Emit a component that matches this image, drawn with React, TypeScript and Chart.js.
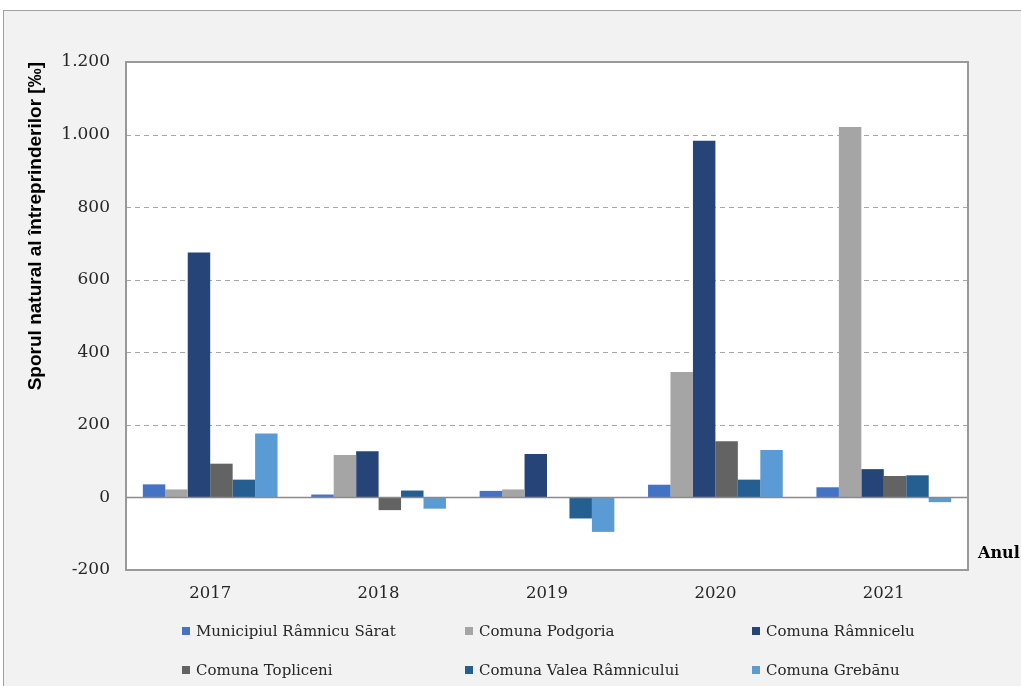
import React, { useEffect, useRef } from "react";
import { Chart, registerables } from "chart.js";

Chart.register(...registerables);

const years = ["2017", "2018", "2019", "2020", "2021"];
const seriesNames = [
  "Municipiul Râmnicu Sărat",
  "Comuna Podgoria",
  "Comuna Râmnicelu",
  "Comuna Topliceni",
  "Comuna Valea Râmnicului",
  "Comuna Grebănu",
];
const municipiulRamnicuSarat = [36, 8, 18, 35, 28];
const comunaPodgoria = [22, 117, 22, 346, 1021];
const comunaRamnicelu = [675, 127, 120, 983, 78];
const comunaTopliceni = [93, -35, 0, 155, 59];
const comunaValeaRamnicului = [49, 19, -58, 49, 61];
const comunaGrebanu = [176, -31, -95, 131, -13];
const seriesColors = ["#4472c4", "#a5a5a5", "#264478", "#636363", "#255e91", "#5b9bd5"];
const yTicks = [-200, 0, 200, 400, 600, 800, 1000, 1200];

const allSeries = [
  municipiulRamnicuSarat,
  comunaPodgoria,
  comunaRamnicelu,
  comunaTopliceni,
  comunaValeaRamnicului,
  comunaGrebanu,
];

const fmt = (v: number) => {
  const neg = v < 0;
  const s = Math.abs(v).toString().replace(/\B(?=(\d{3})+(?!\d))/g, ".");
  return (neg ? "-" : "") + s;
};

const plotDecor = {
  id: "plotDecor",
  beforeDatasetsDraw(chart: any) {
    const { ctx, chartArea } = chart;
    const y = chart.scales.y;
    ctx.save();
    ctx.fillStyle = "#ffffff";
    ctx.fillRect(chartArea.left, chartArea.top, chartArea.right - chartArea.left, chartArea.bottom - chartArea.top);
    ctx.lineWidth = 1;
    ctx.strokeStyle = "#a6a6a6";
    ctx.setLineDash([5, 4]);
    for (const v of yTicks) {
      if (v <= 0 || v >= 1200) continue;
      const py = Math.round(y.getPixelForValue(v)) + 0.5;
      ctx.beginPath();
      ctx.moveTo(chartArea.left, py);
      ctx.lineTo(chartArea.right, py);
      ctx.stroke();
    }
    ctx.restore();
  },
  afterDatasetsDraw(chart: any) {
    const { ctx, chartArea } = chart;
    const y = chart.scales.y;
    ctx.save();
    ctx.strokeStyle = "#8a8a8a";
    ctx.lineWidth = 1.5;
    const zy = y.getPixelForValue(0);
    ctx.beginPath();
    ctx.moveTo(chartArea.left, zy);
    ctx.lineTo(chartArea.right, zy);
    ctx.stroke();
    ctx.strokeStyle = "#999999";
    ctx.lineWidth = 2;
    ctx.strokeRect(chartArea.left, chartArea.top, chartArea.right - chartArea.left, chartArea.bottom - chartArea.top);
    ctx.restore();
  },
};

export default function App() {
  const canvasRef = useRef<HTMLCanvasElement | null>(null);

  useEffect(() => {
    if (!canvasRef.current) return;
    const chart = new Chart(canvasRef.current, {
      type: "bar",
      data: {
        labels: years,
        datasets: allSeries.map((data, i) => ({
          label: seriesNames[i],
          data,
          backgroundColor: seriesColors[i],
          borderWidth: 0,
          categoryPercentage: 0.8,
          barPercentage: 1,
        })),
      },
      options: {
        animation: false,
        responsive: false,
        maintainAspectRatio: false,
        layout: { padding: { left: 20, right: 53, top: 62, bottom: 76 } },
        plugins: {
          legend: { display: false },
          tooltip: { enabled: false },
          title: { display: false },
        },
        scales: {
          x: {
            grid: { display: false, drawTicks: false },
            border: { display: false },
            ticks: {
              padding: 14,
              color: "#262626",
              font: { family: "'DejaVu Serif', serif", size: 16.5 },
            },
            afterFit: (s: any) => {
              s.height = 40;
            },
          },
          y: {
            min: -200,
            max: 1200,
            grid: { display: false, drawTicks: false },
            border: { display: false },
            afterBuildTicks: (s: any) => {
              s.ticks = yTicks.map((v) => ({ value: v }));
            },
            ticks: {
              padding: 16,
              color: "#262626",
              font: { family: "'DejaVu Serif', serif", size: 17 },
              callback: (v: any) => fmt(Number(v)),
            },
            title: {
              display: true,
              text: "Sporul natural al întreprinderilor [‰]",
              align: "end",
              color: "#000000",
              padding: { top: 4, bottom: 4 },
              font: { family: "'Liberation Sans', sans-serif", size: 19, weight: "bold" },
            },
            afterFit: (s: any) => {
              s.width = 106;
            },
          },
        },
      },
      plugins: [plotDecor],
    });
    return () => chart.destroy();
  }, []);

  const legendCols = [178, 461, 748];
  const legendRows = [631, 670];

  return (
    <div
      style={{
        position: "fixed",
        left: 0,
        top: 0,
        width: 1021,
        height: 686,
        overflow: "hidden",
        background: "#ffffff",
      }}
    >
      <div
        style={{
          position: "absolute",
          left: 3,
          top: 10,
          width: 1040,
          height: 700,
          border: "1.5px solid #a0a0a0",
          background: "#f2f2f2",
        }}
      />
      <canvas
        ref={canvasRef}
        width={1021}
        height={686}
        style={{ position: "absolute", left: 0, top: 0, width: 1021, height: 686 }}
      />
      <div
        style={{
          position: "absolute",
          left: 978,
          top: 543,
          fontFamily: "'DejaVu Serif', serif",
          fontWeight: "bold",
          fontSize: 16,
          color: "#000",
          whiteSpace: "nowrap",
          lineHeight: "20px",
        }}
      >
        Anul
      </div>
      {seriesNames.map((name, i) => {
        const col = i % 3;
        const row = Math.floor(i / 3);
        return (
          <div
            key={name}
            style={{
              position: "absolute",
              left: legendCols[col] + 4,
              top: legendRows[row] - 10,
              height: 20,
              display: "flex",
              alignItems: "center",
              fontFamily: "'DejaVu Serif', serif",
              fontSize: 15,
              color: "#262626",
              whiteSpace: "nowrap",
            }}
          >
            <span
              style={{
                display: "inline-block",
                width: 8,
                height: 8,
                background: seriesColors[i],
                marginRight: 6,
              }}
            />
            {name}
          </div>
        );
      })}
    </div>
  );
}
